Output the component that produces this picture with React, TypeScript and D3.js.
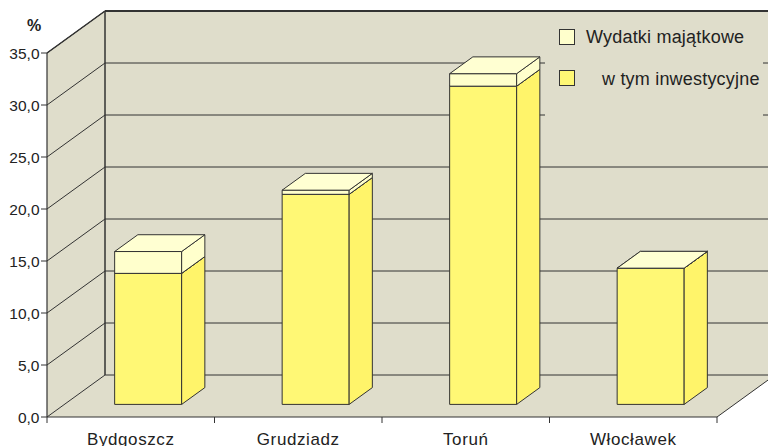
import React from "react";
import * as d3 from "d3";

const categories = ["Bydgoszcz", "Grudziadz", "Toruń", "Włocławek"];
const wydatkiMajatkowe = [14.7, 20.6, 31.8, 13.1];
const inwestycyjne = [12.6, 20.2, 30.6, 13.1];
const yTicks = [0, 5, 10, 15, 20, 25, 30, 35];
const seriesNames = ["Wydatki majątkowe", "w tym inwestycyjne"];

const W = 768, H = 446;
const X0 = 47, X1 = 717, Y0 = 417, Y35 = 53;
const DX = 58, DY = 42;
const WALL = "#DFDDCB";
const LINE = "#333333";
const YELLOW = "#FFF875";
const YELLOW_SIDE = "#FFF46A";
const LIGHT = "#FFFFCC";
const LIGHT_TOP = "#FFFFD2";
const FONT = "'Liberation Sans', Arial, sans-serif";

export default function App() {
  const x = d3.scaleBand().domain(categories).range([0, X1 - X0]).paddingInner(0).paddingOuter(0);
  const y = d3.scaleLinear().domain([0, 35]).range([0, Y0 - Y35]);
  const P = (u: number, v: number, z: number): [number, number] => [X0 + u + DX * z, Y0 - y(v) - DY * z];
  const pts = (a: [number, number][]) => a.map((p) => p.join(",")).join(" ");

  const z0 = 0.3, z1 = 0.7;
  const barFrac = 0.4;

  const box = (u0: number, u1: number, v0: number, v1: number, fill: string, side: string, top: string, key: string) => (
    <g key={key} stroke={LINE} strokeWidth={1} strokeLinejoin="round">
      <polygon points={pts([P(u0, v0, z0), P(u1, v0, z0), P(u1, v1, z0), P(u0, v1, z0)])} fill={fill} />
      <polygon points={pts([P(u1, v0, z0), P(u1, v0, z1), P(u1, v1, z1), P(u1, v1, z0)])} fill={side} />
      <polygon points={pts([P(u0, v1, z0), P(u1, v1, z0), P(u1, v1, z1), P(u0, v1, z1)])} fill={top} />
    </g>
  );

  const Wd = X1 - X0;
  return (
    <svg width={W} height={H} style={{ position: "absolute", left: 0, top: 0 }} fontFamily={FONT}>
      <rect x={0} y={0} width={W} height={H} fill="#fff" />
      <polygon points={pts([P(0, 0, 1), P(Wd, 0, 1), P(Wd, 35, 1), P(0, 35, 1)])} fill={WALL} />
      <polygon points={pts([P(0, 0, 0), P(0, 0, 1), P(0, 35, 1), P(0, 35, 0)])} fill={WALL} />
      <polygon points={pts([P(0, 0, 0), P(Wd, 0, 0), P(Wd, 0, 1), P(0, 0, 1)])} fill={WALL} />
      {yTicks.map((t) => (
        <g key={t} stroke={LINE} strokeWidth={1} fill="none">
          <polyline points={pts([P(0, t, 0), P(0, t, 1), P(Wd, t, 1)])} />
        </g>
      ))}
      <line x1={P(0, 0, 1)[0]} y1={P(0, 0, 1)[1]} x2={P(0, 35, 1)[0]} y2={P(0, 35, 1)[1]} stroke={LINE} strokeWidth={1.5} />
      <line x1={P(0, 35, 0)[0]} y1={P(0, 35, 0)[1]} x2={P(0, 35, 1)[0]} y2={P(0, 35, 1)[1]} stroke={LINE} strokeWidth={1.5} />
      <line x1={P(0, 35, 1)[0]} y1={P(0, 35, 1)[1]} x2={P(Wd + 60, 35, 1)[0]} y2={P(Wd + 60, 35, 1)[1]} stroke={LINE} strokeWidth={2} />
      <line x1={P(Wd, 0, 0)[0]} y1={P(Wd, 0, 0)[1]} x2={P(Wd, 0, 1)[0]} y2={P(Wd, 0, 1)[1]} stroke={LINE} strokeWidth={1} />
      <line x1={X0} y1={Y35} x2={X0} y2={Y0} stroke={LINE} strokeWidth={1.2} />
      <line x1={X0} y1={Y0} x2={X1} y2={Y0} stroke={LINE} strokeWidth={1.2} />
      <rect x={545} y={14} width={218} height={110} fill={WALL} />
      {categories.map((c, i) => {
        const uc = (x(c) as number) + x.bandwidth() / 2;
        const hw = (x.bandwidth() * barFrac) / 2;
        const u0 = uc - hw, u1 = uc + hw;
        return (
          <g key={c}>
            {box(u0, u1, 0, inwestycyjne[i], YELLOW, YELLOW_SIDE, YELLOW, c + "a")}
            {box(u0, u1, inwestycyjne[i], wydatkiMajatkowe[i], LIGHT, LIGHT, LIGHT_TOP, c + "b")}
          </g>
        );
      })}
      {yTicks.map((t) => (
        <g key={"yt" + t}>
          <line x1={41} x2={X0} y1={Y0 - y(t)} y2={Y0 - y(t)} stroke={LINE} strokeWidth={1} />
          <text x={39.5} y={Y0 - y(t) + 5.8} textAnchor="end" fontSize={15.5} fill="#222">
            {d3.format(".1f")(t).replace(".", ",")}
          </text>
        </g>
      ))}
      <text x={34} y={31} textAnchor="middle" fontSize={16} fontWeight="bold" fill="#222">%</text>
      {d3.range(categories.length + 1).map((k) => (
        <line key={"xt" + k} x1={X0 + k * x.bandwidth()} x2={X0 + k * x.bandwidth()} y1={Y0} y2={Y0 + 6} stroke={LINE} strokeWidth={1} />
      ))}
      {categories.map((c) => (
        <text key={"xl" + c} x={X0 + (x(c) as number) + x.bandwidth() / 2} y={444.5} textAnchor="middle" fontSize={17} letterSpacing={0.6} fill="#222">
          {c}
        </text>
      ))}
      <rect x={559.5} y={29.5} width={15} height={15} fill={LIGHT} stroke={LINE} strokeWidth={1} />
      <text x={586} y={43} fontSize={18} letterSpacing={0.2} fill="#222">{seriesNames[0]}</text>
      <rect x={559.5} y={70.5} width={15} height={15} fill={YELLOW} stroke={LINE} strokeWidth={1} />
      <text x={602} y={85} fontSize={18} letterSpacing={0.2} fill="#222">{seriesNames[1]}</text>
    </svg>
  );
}
